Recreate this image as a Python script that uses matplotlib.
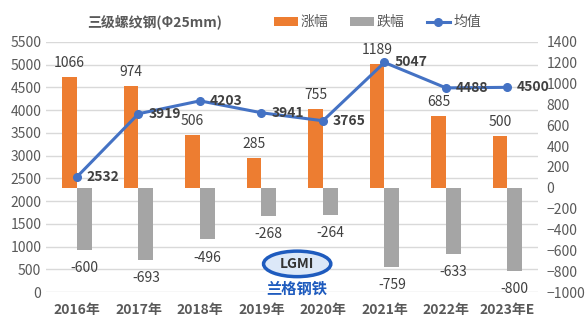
import matplotlib
matplotlib.use("Agg")
import matplotlib.pyplot as plt
from matplotlib.patches import Ellipse

plt.rcParams['font.family'] = ['Noto Sans CJK SC', 'DejaVu Sans']

years = ['2016年', '2017年', '2018年', '2019年', '2020年', '2021年', '2022年', '2023年E']
rise = [1066, 974, 506, 285, 755, 1189, 685, 500]
fall = [-600, -693, -496, -268, -264, -759, -633, -800]
avg = [2532, 3919, 4203, 3941, 3765, 5047, 4488, 4500]

ORANGE = '#ED7D31'
GRAY = '#A5A5A5'
BLUE = '#4472C4'
TXT = '#595959'
LBL = '#404040'

fig = plt.figure(figsize=(5.85, 3.27), dpi=100)
ax = fig.add_axes([0.079, 0.107, 0.841, 0.765])
x = list(range(len(years)))

# left axis: price scale + gridlines
ax.set_ylim(0, 5500)
ax.set_yticks(range(0, 5501, 500))
ax.grid(axis='y', color='#D9D9D9', linewidth=1)
ax.set_axisbelow(True)
ax.set_xlim(-0.5, len(years) - 0.5)
ax.set_xticks(x)
ax.set_xticklabels(years, fontweight='bold')
for s in ax.spines.values():
    s.set_visible(False)
ax.tick_params(length=0, labelsize=10, colors=TXT)
ax.tick_params(axis='x', pad=8)

# right axis: change bars
ax2 = ax.twinx()
ax2.set_ylim(-1000, 1400)
ax2.set_yticks(range(-1000, 1401, 200))
for s in ax2.spines.values():
    s.set_visible(False)
ax2.tick_params(length=0, labelsize=10, colors=TXT, pad=6)
w = 0.24
b1 = ax2.bar([i - w / 2 for i in x], rise, width=w, color=ORANGE, label='涨幅')
b2 = ax2.bar([i + w / 2 for i in x], fall, width=w, color=GRAY, label='跌幅')
for i in x:
    ax2.annotate(str(rise[i]), (i - w / 2, rise[i]), xytext=(0, 5), textcoords='offset points',
                 ha='center', va='bottom', fontsize=10, color=LBL)
    ax2.annotate(str(fall[i]), (i + w / 2, fall[i]), xytext=(0, -8), textcoords='offset points',
                 ha='center', va='top', fontsize=10, color=LBL)

# average price line on top
ax3 = ax.twinx()
ax3.set_ylim(0, 5500)
ax3.set_yticks([])
for s in ax3.spines.values():
    s.set_visible(False)
ln, = ax3.plot(x, avg, color=BLUE, linewidth=2.2, marker='o', markersize=5.5, label='均值')
for i in x:
    ax3.annotate(str(avg[i]), (i, avg[i]), xytext=(7, 0), textcoords='offset points',
                 ha='left', va='center', fontsize=10, fontweight='bold', color=LBL)

fig.text(0.265, 0.932, '三级螺纹钢(Φ25mm)', ha='center', va='center',
         fontsize=10, fontweight='bold', color=TXT)
fig.legend(handles=[b1, b2, ln], loc='center', bbox_to_anchor=(0.645, 0.932), ncol=3,
           frameon=False, fontsize=10, labelcolor=TXT, handlelength=1.7,
           handleheight=0.55, columnspacing=1.6, handletextpad=0.2)

# company logo
fig.patches.append(Ellipse((0.508, 0.193), 0.115, 0.078, transform=fig.transFigure,
                           facecolor='#DCE8F8', edgecolor='#1E5BBE', linewidth=2.5))
fig.text(0.508, 0.193, 'LGMI', ha='center', va='center', fontsize=10,
         fontweight='bold', color='#333333')
fig.text(0.508, 0.118, '兰格钢铁', ha='center', va='center', fontsize=11,
         fontweight='bold', color='#1E5BBE', style='italic')

fig.savefig('out.png', dpi=100)
